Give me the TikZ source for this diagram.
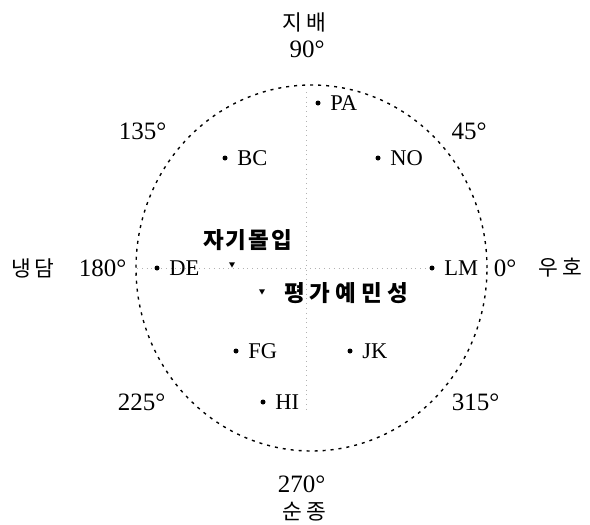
\documentclass[tikz,border=0pt]{standalone}
\usepackage{fontspec}
\setmainfont{Liberation Serif}
\newfontfamily\kr{Noto Sans CJK KR}
\usetikzlibrary{shapes.geometric,backgrounds}
\begin{document}
\begin{tikzpicture}[x=1pt,y=-1pt,
  pt/.style={circle,fill,inner sep=0pt,minimum size=5pt},
  lab/.style={font=\fontsize{22.5}{26}\selectfont,inner sep=0pt},
  deg/.style={font=\fontsize{25}{30}\selectfont,inner sep=0pt},
  kor/.style={font=\kr\fontsize{21.5}{26}\selectfont,inner sep=0pt},
  korb/.style={font=\kr\bfseries\fontsize{22.5}{27}\selectfont,inner sep=0pt},
  tri/.style={regular polygon,regular polygon sides=3,shape border rotate=180,fill,inner sep=0pt,minimum size=7pt},
  axis/.style={gray!60,line width=0.8pt,dash pattern=on 0.8pt off 4pt},
  ring/.style={line width=1.4pt,dash pattern=on 3pt off 5pt},
  ptlab/.style={label={[lab,label distance=9.5pt]right:#1}}]
\useasboundingbox (0,0) rectangle (590,525);

% axis and degree labels
\node[kor] (jibae) at (304,22) {지\hspace{4pt}배};
\node[deg] (d90) at (307,49) {90°};
\node[deg] (d135) at (142.5,131) {135°};
\node[deg] (d45) at (469,131) {45°};
\node[kor] (naeng) at (33,268) {냉\hspace{3pt}담};
\node[deg] (d180) at (102.5,268) {180°};
\node[deg] (d0) at (505,268) {0°};
\node[kor] (uho) at (560,268) {우\hspace{4pt}호};
\node[deg] (d225) at (141.5,402) {225°};
\node[deg] (d315) at (475.5,402) {315°};
\node[deg] (d270) at (301.5,484) {270°};
\node[kor] (sun) at (304.5,512) {순\hspace{4pt}종};

% circle
\coordinate (c) at (311.5,268);
\draw[ring] (c) ellipse [x radius=175.5pt, y radius=183pt];

% points
\node[pt,ptlab=PA] (pa) at (318,103) {};
\node[pt,ptlab=BC] (bc) at (225,158) {};
\node[pt,ptlab=NO] (no) at (378,158) {};
\node[pt,ptlab=DE] (de) at (157,268) {};
\node[pt,ptlab=LM] (lm) at (432,268) {};
\node[pt,ptlab=FG] (fg) at (236,351) {};
\node[pt,ptlab=JK] (jk) at (350,351) {};
\node[pt,ptlab=HI] (hi) at (263,402) {};

% triangles and bold labels
\node[tri] (t1) at (232,264) {};
\node[tri] (t2) at (262,291) {};
\node[korb] (jagi) at (247.5,240) {자\hspace{2pt}기\hspace{2pt}몰\hspace{2pt}입};
\node[korb] (pyeong) at (346,293) {평\hspace{5pt}가\hspace{5pt}예\hspace{5pt}민\hspace{5pt}성};

% axes
\coordinate (vt) at (306,92);
\coordinate (vb) at (306,412);
\coordinate (hl) at (137,268);
\begin{scope}[on background layer]
\draw[axis] (vt) -- (vb);
\draw[axis] (hl) -- (lm.center);
\end{scope}
\end{tikzpicture}
\end{document}
